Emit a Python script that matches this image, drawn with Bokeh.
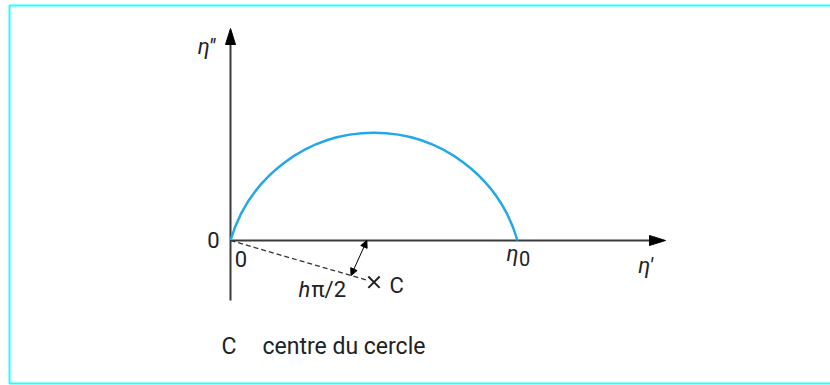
import math
from bokeh.plotting import figure
from bokeh.models import Range1d, Arrow, NormalHead
from bokeh.core.properties import value
from bokeh.embed import file_html
from bokeh.resources import INLINE

# ---- chart values ----
eta_zero = [1.0]            # eta_0 on the real axis
h_param = [0.18]            # depression parameter h (angle h*pi/2)
axis_names = ["η''", "η'"]
tick_labels = ["0", "0"]
eta0_label = ["η", "0"]
angle_label = ["h", "π/2"]
centre_label = ["C"]
caption = ["C", "centre du cercle"]

# ---- geometry ----
W, H = 830, 385
S = 287.0                   # pixels per unit
ox, oy = 230.0, 240.0       # canvas position of origin

def X(px):
    return (px - ox) / S

def Y(py):
    return (oy - py) / S

e0 = eta_zero[0]
theta = h_param[0] * math.pi / 2
xc = e0 / 2
yc = -xc * math.tan(theta)
r = math.hypot(xc, yc)

FONT = value("Roboto")
INK = "#222222"
AXIS = "#3a3a3a"
BLUE = "#22a8e8"
CYAN = "#22ffff"

p = figure(width=W, height=H, output_backend="svg", toolbar_location=None,
           x_axis_type=None, y_axis_type=None, min_border=0,
           x_range=Range1d(-ox / S, (W - ox) / S),
           y_range=Range1d(-(H - oy) / S, oy / S))
p.outline_line_color = None
p.background_fill_color = "white"

# frame border (left, top, bottom)
p.line(x=[X(900), X(9), X(9), X(900)], y=[Y(5), Y(5), Y(383), Y(383)],
       line_color=CYAN, line_width=2)

# axes with arrow heads
x_tip = X(665)
y_tip = Y(28)
p.line(x=[0, x_tip - 10 / S], y=[0, 0], line_color=AXIS, line_width=2)
p.line(x=[0, 0], y=[Y(300), y_tip - 10 / S], line_color=AXIS, line_width=2)
hl, hw = 16 / S, 5 / S
p.patches(xs=[[x_tip, x_tip - hl, x_tip - hl], [0, -hw, hw]],
          ys=[[0, hw, -hw], [y_tip, y_tip - hl, y_tip - hl]],
          fill_color="black", line_color="black", line_width=1)

# Cole-Cole arc
p.arc(x=[xc], y=[yc], radius=r,
      start_angle=math.atan2(-yc, e0 - xc), end_angle=math.atan2(-yc, -xc),
      direction="anticlock", line_color=BLUE, line_width=2.5)

# dashed radius to centre (stops just before the cross)
f = 0.95
p.line(x=[0, f * xc], y=[0, f * yc], line_color="#333333", line_width=1.3,
       line_dash="5 3")
p.scatter(x=[xc], y=[yc], marker="x", size=16, line_color=INK, line_width=2)

# angle indicator (double arrow)
t = 0.84
p.add_layout(Arrow(x_start=t * xc, y_start=t * yc, x_end=0.475 * e0, y_end=0,
                   line_color="black", line_width=1,
                   start=NormalHead(size=7, fill_color="black", line_color="black"),
                   end=NormalHead(size=7, fill_color="black", line_color="black")))

fs = "22px"
# axis names
p.text(x=[X(206)], y=[Y(46)], text=[axis_names[0]], text_font=FONT,
       text_font_style="italic", text_font_size=fs, text_color=INK,
       text_align="center", text_baseline="middle")
p.text(x=[X(645)], y=[Y(265)], text=[axis_names[1]], text_font=FONT,
       text_font_style="italic", text_font_size=fs, text_color=INK,
       text_align="center", text_baseline="middle")
# zeros
p.text(x=[X(219)], y=[Y(239)], text=[tick_labels[0]], text_font=FONT,
       text_font_size=fs, text_color=INK, text_align="right", text_baseline="middle")
p.text(x=[X(240.5)], y=[Y(258)], text=[tick_labels[1]], text_font=FONT,
       text_font_size=fs, text_color=INK, text_align="center", text_baseline="middle")
# eta_0
p.text(x=[e0 - 5 / S], y=[Y(253)], text=[eta0_label[0]], text_font=FONT,
       text_font_style="italic", text_font_size=fs, text_color=INK,
       text_align="center", text_baseline="middle")
p.text(x=[e0 + 7 / S], y=[Y(258)], text=[eta0_label[1]], text_font=FONT,
       text_font_size="20px", text_color=INK,
       text_align="center", text_baseline="middle")
# h pi/2
p.text(x=[X(304)], y=[Y(289)], text=[angle_label[0]], text_font=FONT,
       text_font_style="italic", text_font_size=fs, text_color=INK,
       text_align="center", text_baseline="middle")
p.text(x=[X(311)], y=[Y(289)], text=[angle_label[1]], text_font=FONT,
       text_font_size=fs, text_color=INK,
       text_align="left", text_baseline="middle")
# C next to the cross
p.text(x=[X(389)], y=[Y(285)], text=[centre_label[0]], text_font=FONT,
       text_font_size=fs, text_color=INK, text_align="left", text_baseline="middle")
# caption
p.text(x=[X(221), X(262)], y=[Y(346), Y(346)], text=caption, text_font=FONT,
       text_font_size="23px", text_color=INK, text_align="left", text_baseline="middle")

open("out.html", "w").write(file_html(p, INLINE))
